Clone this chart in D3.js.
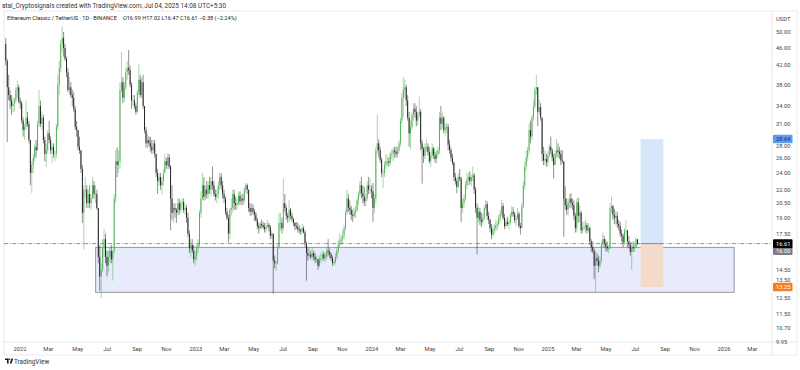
<!DOCTYPE html>
<html>
<head>
<meta charset="utf-8">
<script src="https://cdn.jsdelivr.net/npm/d3@7/dist/d3.min.js"></script>
<style>
  html, body { margin: 0; padding: 0; background: #ffffff; }
  svg { display: block; font-family: Roboto, "DejaVu Sans", sans-serif; }
</style>
</head>
<body>
<svg id="chart" width="800" height="370"></svg>
<script>
// ETC/USDT, candles aggregated to 3 days, Dec 1 2021 -> Jul 4 2025
const startDate = new Date(Date.UTC(2021, 11, 1));
const periodDays = 3;
const firstOpen = 47;

const highs = [
  48.5,43.5,40,37,36,35.5,35.5,37.5,38.8,38,
  35.5,35,32,31,35,33,31.5,28.5,25.5,26.5,
  28,28.5,31.5,37,35,33,32.5,29,28,30,
  31.5,29,28,28,27,31,40,43,48,51.5,
  50,47,44,41.5,39.5,38.5,37,36.5,34,31.5,
  29.5,29,27,25,22.5,23.5,22.5,22,22.5,21.5,
  23.5,23,22.5,22,20,16.5,15,17,17.9,17.5,
  16,16,16.3,16.5,16,21.5,27,27.4,27,38.5,
  45,39.5,38.5,41.5,43,45.5,42,38.5,36,36,
  34.5,37,42.2,40,39.5,40,34,30.5,29.5,29,
  29,28.5,28.5,28.5,26.5,24.5,24,24,23.5,24.5,
  26.5,26,26.6,26.5,25,22.5,20.5,20.5,20,21,
  21,20.8,21,21,20.5,20.3,19.5,17.8,17,17,
  16.5,16,16.5,17,19.8,21.8,24,23.5,22.5,23,
  23,23.5,23.5,24.8,23,22,22,23,24,24,
  23,22,21.2,20,19.3,20,21,22,22,21.2,
  21,21.8,21.8,21.5,21.5,22.3,22.8,22.7,22,20.5,
  20.5,20.4,19.9,19.6,19,18.5,18.6,18.8,18.6,18.5,
  18.5,18.8,18.5,18.3,17.8,17.5,15.6,15.2,16.5,19.5,
  19.5,19,23.3,21.5,20.3,19.5,20.8,20,19.5,19,
  18.6,18.6,18.5,18.3,18,18.4,18.2,17.8,16.8,16.3,
  16.2,16,16.3,16,15.8,15.6,15.4,15.6,15.8,16,
  15.9,15.8,16.2,17,16.2,15.9,15.6,15.3,15.8,16.3,
  17,17.5,17.3,17.8,18.3,19.8,22,21.5,20.8,20.2,
  19.8,20,20.2,21.1,21.8,23,23.5,22.5,22.3,21.5,
  23,23.5,23.3,22.5,22.8,21.5,27.5,32.5,28.6,27.5,
  26,24.5,25.5,26.5,26.2,26,26.8,27.2,27.4,27.5,
  27.5,27.5,28.5,32,36.4,39.5,39,38,36,33,
  31.5,33,34.5,34.5,34,33,35.7,33.5,28.5,27.5,
  28,28.6,28,27.5,26.8,28,27.5,26.8,27,27.5,
  33,34,32.8,32.3,31,31.2,31,28.5,27.4,26.5,
  25.5,24,23.3,24,24.5,23.5,21,21.5,23,24,
  24,24.2,23.8,24.8,24,22.3,20.5,20.2,20,19.5,
  19.4,20.2,20.9,20.7,19.6,18.9,18.4,18.2,18.4,18.8,
  18.7,19.3,19.8,20.9,20.5,19.4,18.9,19.1,18.8,19.5,
  20.2,20.1,19.6,19.2,20,19.6,18.5,20.5,23,25.5,
  27,27.5,31,31.5,32.5,35,37.5,40,37.5,35.2,
  34.5,32,27.5,27,26.5,26.8,27.8,29,27.3,26.5,
  27,28.6,28,27.5,27,27,25.5,22.4,21,21,
  21.5,21.6,21,20.8,19.5,21,21.1,20.3,19.7,18.6,
  18.6,18.8,18.5,18.5,18.2,17,16.8,16.2,16,15.8,
  15.6,15.5,16.8,17.6,17.3,17,16.8,16.5,20.5,21.2,
  20.3,19.9,19.7,19.6,18.8,18.6,17.9,17.5,18,18.8,
  17.5,17.3,16.8,16.7,16.8,16.7,17.2,17.02
];

const lows = [
  42,28.2,35,33.5,32.5,33,33,34.5,35.5,34.5,
  33.5,31,29,28.5,30,30.5,28,22.5,21.6,24,
  25.5,26,27,30.5,30.5,30,28,25.5,24.8,26.5,
  28,26.5,25.3,26,25.5,26,30,36,40.5,45,
  44,43,39.5,36.5,36,35.5,34,33,30,29,
  27,26.5,24,18.5,16.1,21,20,20,20,19.8,
  21,21,20.5,19.8,15,13,12.5,14.3,15.5,15,
  14,14.3,15,15,13.7,15.8,20.5,23.5,24,24.5,
  36.5,34.5,34.8,37,39,40,37.5,33.5,34,33.5,
  32.5,32.8,36,35.5,35.5,33.5,29.5,27.4,27.3,27.5,
  26.8,26.5,26.5,26,23.5,21.5,22.5,22,21.5,22.5,
  24,24.5,24.5,24.5,17.8,18.8,18.5,19,18.5,19.2,
  19.3,19.5,19.8,19.5,19.3,18.5,17.2,15.8,15.5,15.8,
  15,14.8,15.2,15.8,16.3,19,20.8,20.8,20.8,21,
  21,21.5,21.3,22,21.2,20.8,20.5,21,22,22,
  21,20.5,19.3,18.8,16.7,17,19.2,19.5,19.8,19.8,
  19.8,20.3,20.3,20.3,20.3,20.5,21.6,21.5,19.6,19.2,
  19.2,19.3,18.7,18.6,17.9,17.5,17.8,18,17.9,17.6,
  17.6,18,17.7,17,17,12.8,14.6,14.4,14.9,16.2,
  17.8,17.5,17.8,19.6,18.8,18.5,18.6,18.8,18.6,18.2,
  17.8,17.9,17.6,17.5,17.4,17.5,17.5,16.3,13.7,15.2,
  15.4,15.3,15.3,15.2,15,15,14.5,14.7,15,15.2,
  15.2,15.1,15.3,15.6,15.4,15.2,14.8,14.8,14.9,15.3,
  15.8,16.3,16.5,16.6,17,17.8,19.3,19.6,19.3,18.8,
  18.6,19,19,19.6,20.3,21.2,21,20.5,20.2,20.2,
  20.8,21.5,21.5,21,18.6,19.5,20.5,26.5,26,25.3,
  23.5,22.2,23.5,24.5,24.8,24.8,25,25.8,25.5,26,
  26,26,26.5,27.5,31,32,35.5,34,31.5,27.5,
  27.1,30,31.5,32,30.6,30.8,32,27,22.7,25.3,
  25.8,26.8,26.3,25.2,24.8,26,25.8,25.3,25.2,26,
  26.5,30,30.2,29.5,29,29.5,27,26.5,25.5,25,
  23,22.6,21.6,22.2,23,18.6,19.5,20,20.8,22,
  22.5,22.6,22.4,23,21.5,19.5,15.7,18.5,18.3,18.1,
  18.3,18.8,19.8,18.8,18.4,17.6,17,17.2,17.5,17.7,
  17.8,18.2,18.6,19.2,18.8,17.9,18,18.2,17.9,18.3,
  19,19.1,18.5,18.2,18.8,18,17.4,18,20,22,
  24.3,25.5,26.5,28,28.5,31.5,33.5,36,30.6,32.5,
  31.5,25.5,25,25,24.8,24.8,26,26.5,25.5,23.3,
  25,26,26,25.8,25,25.2,17.2,19.8,19.3,19.2,
  20,20,19.8,18.8,17.6,17.6,18.5,18.6,17.5,17.5,
  17.7,17.6,17.5,17.6,16.5,15.9,15.8,13.8,12.9,14.8,
  14.3,14.6,15,16.2,16.3,16,15.9,15.8,16.1,19.5,
  18.8,18.4,18.3,18,17.8,17.2,16.8,16.3,16.5,17.4,
  16.3,16.2,15.6,14.5,15.9,15.9,16.2,16.47
];

const closes = [
  43,37.5,36,35,34,34.5,35,37,37.5,34.8,
  34.5,31.5,30,30.5,32,31,28.5,24,25,26,
  27.5,27,31,34,31,32,28.5,26.5,27,29.5,
  28.5,27,27.5,26.5,26.5,30.5,38,41.5,47,48.5,
  46,43.5,40.5,37,37.5,36,35.5,33.5,30.5,30,
  27.5,27,24.5,19.5,22,22,20.5,21.5,20.5,21,
  22.5,21.5,21.5,20,15.5,14,14.5,16.2,17,15.5,
  14.8,15.5,16,15.3,16,21,25.5,25,25.5,37,
  38.5,35.5,37.5,40.5,41.5,41,38,35,35,34,
  33,36.5,39,36,38.5,34,30,28,28.5,28,
  27.5,27,28,26.5,24,23,23.5,22.5,23,24,
  25.5,25,26,24.8,21,19.5,20,19.8,19.5,20.5,
  19.8,20.5,20.6,19.8,20,19,17.5,16.2,16.5,16,
  15.3,15.5,16.2,16.5,19.5,21,22.5,21.2,22,21.5,
  22.5,22,23,22.5,21.5,21.2,21.5,22.5,23.5,22.5,
  21.5,21,19.6,19,17.5,19.8,20,21.5,20.5,20.3,
  20.5,21.3,20.7,21,20.8,22,22.5,22,20,19.6,
  20,19.6,19.3,18.8,18.2,18,18.4,18.3,18.1,17.9,
  18.2,18.3,18.1,17.3,17.5,15.2,15,15,16.2,18.5,
  18.5,18,20.5,20,19.2,19,19.8,19.2,18.9,18.5,
  18.2,18.1,17.9,17.8,17.7,18,17.6,16.6,15.8,15.6,
  15.7,15.5,15.8,15.5,15.3,15.3,14.8,15.3,15.4,15.7,
  15.4,15.5,16,15.9,15.7,15.4,15,15.1,15.5,16,
  16.5,16.8,17,17.3,18,19.5,21,20,19.8,19.3,
  19.2,19.5,19.8,20.8,21.5,22.5,21.6,21.2,20.7,21,
  22.5,22,22,21.8,20,21,27,28,27,25.7,
  24,24,25,25.5,25.5,25.3,26.5,26.5,27,26.8,
  26.5,27,28,31.5,35.5,37,37.5,35,32,29.5,
  30.5,32.5,33.5,33,31.5,32.5,33,28,27.2,26.2,
  27.5,27.5,26.8,25.5,26.3,27.3,26.3,25.8,26.5,27,
  32,31,32,30,30.3,30.5,27.8,27,26,25.3,
  23.5,23,22.3,23.5,23.3,20,20.5,21,22.5,23.2,
  23.5,23,23.5,23.7,22,20,19,19.6,18.8,18.6,
  19,20,20.4,19.2,18.8,18,17.4,17.9,18,18.3,
  18.4,19,19.4,20.2,19,18.2,18.6,18.4,18.5,19.2,
  19.6,19.4,18.8,18.9,19.4,18.2,18,20.2,22.5,24.8,
  26,27,30,29,32,34,37,37.5,33,33.8,
  32,26.5,25.6,25.8,25.4,26.3,27.5,27,26,25,
  26.5,27,26.8,26.5,25.6,25.5,21,20.3,19.8,20.6,
  21,20.5,20.3,19.2,18,20.6,19.2,19.5,17.8,18,
  18.1,18.3,17.8,18,16.8,16.3,16,14.8,15.4,15.2,
  14.8,15.2,16.5,17,16.6,16.4,16.2,16.2,20,20.2,
  19.3,19,19.2,18.4,18.2,17.5,17.3,16.7,17.8,17.8,
  16.8,16.5,15.9,16.3,16.2,16.3,16.99,16.61
];

const priceTicks = [50, 46, 42, 38, 34, 31, 28, 26, 24, 22, 20.5, 19, 17.5, 16, 14.5, 13.5, 12.5, 11.5, 10.7, 9.95];
const lastPrice = 16.61;
const grayLevel = 16.00;

// drawings
const zoneStart = new Date(Date.UTC(2022, 5, 7));
const zoneEnd = new Date(Date.UTC(2026, 0, 22));
const zoneTop = 16.29;
const zoneBottom = 12.89;

const toolStart = new Date(Date.UTC(2025, 6, 12));
const toolEnd = new Date(Date.UTC(2025, 7, 28));
const toolEntry = 16.61;
const toolTarget = 28.64;
const toolStop = 13.25;

const headerTop = "atai_Cryptosignals created with TradingView.com, Jul 04, 2025 14:08 UTC+5:30";
const headerSymbol = "Ethereum Classic / TetherUS · 1D · BINANCE";
const headerValues = "O16.99 H17.02 L16.47 C16.61 −0.38 (−2.24%)";

// layout
const PLOT_LEFT = 4, PLOT_RIGHT = 772, PLOT_TOP = 11, PLOT_BOTTOM = 342;
const AXIS_BOTTOM = 355, FRAME_RIGHT = 797;
const UP_COLOR = "#4caf50", DOWN_COLOR = "#1e1e1e";
const LABEL_X = 776, LABEL_H = 8.6, TEXT_H = 5;

const svg = d3.select("#chart");

const xScale = d3.scaleUtc()
  .domain([new Date(Date.UTC(2022, 0, 1)), new Date(Date.UTC(2026, 0, 1))])
  .range([20, 724]);

const yScale = d3.scaleLog()
  .domain([9.95, 50])
  .range([342, 32]);

const defs = svg.append("defs");
defs.append("clipPath").attr("id", "plot-clip")
  .append("rect")
  .attr("x", PLOT_LEFT).attr("y", PLOT_TOP)
  .attr("width", PLOT_RIGHT - PLOT_LEFT).attr("height", PLOT_BOTTOM - PLOT_TOP);

// header
svg.append("text")
  .attr("x", 2).attr("y", 8)
  .style("font-size", "6.4px").style("fill", "#333")
  .text(headerTop);

// frame
svg.append("rect")
  .attr("x", PLOT_LEFT).attr("y", PLOT_TOP)
  .attr("width", FRAME_RIGHT - PLOT_LEFT).attr("height", AXIS_BOTTOM - PLOT_TOP)
  .attr("fill", "none").attr("stroke", "#e3e5ea").attr("stroke-width", 0.8);
svg.append("line")
  .attr("x1", PLOT_LEFT).attr("x2", FRAME_RIGHT)
  .attr("y1", PLOT_BOTTOM).attr("y2", PLOT_BOTTOM)
  .attr("stroke", "#e3e5ea").attr("stroke-width", 0.8);
svg.append("line")
  .attr("x1", PLOT_RIGHT).attr("x2", PLOT_RIGHT)
  .attr("y1", PLOT_TOP).attr("y2", AXIS_BOTTOM)
  .attr("stroke", "#e3e5ea").attr("stroke-width", 0.8);

const plot = svg.append("g").attr("clip-path", "url(#plot-clip)");

// support zone rectangle
plot.append("rect")
  .attr("x", xScale(zoneStart))
  .attr("y", yScale(zoneTop))
  .attr("width", xScale(zoneEnd) - xScale(zoneStart))
  .attr("height", yScale(zoneBottom) - yScale(zoneTop))
  .attr("fill", "#e7ebfb")
  .attr("stroke", "#8d8f99")
  .attr("stroke-width", 0.9);

// candles
const candles = closes.map((c, i) => {
  const t = d3.utcDay.offset(startDate, i * periodDays);
  const o = i === 0 ? firstOpen : closes[i - 1];
  return { t: t, o: o, h: highs[i], l: lows[i], c: c };
});
const halfPeriod = (xScale(d3.utcDay.offset(startDate, periodDays)) - xScale(startDate)) / 2;

const cg = plot.append("g");
cg.selectAll(".wick")
  .data(candles)
  .enter()
  .append("line")
  .attr("class", "wick")
  .attr("x1", d => xScale(d.t) + halfPeriod)
  .attr("x2", d => xScale(d.t) + halfPeriod)
  .attr("y1", d => yScale(Math.max(d.h, d.o, d.c)))
  .attr("y2", d => yScale(Math.min(d.l, d.o, d.c)))
  .attr("stroke", d => d.c >= d.o ? UP_COLOR : DOWN_COLOR)
  .attr("stroke-width", 0.5);

cg.selectAll(".body")
  .data(candles)
  .enter()
  .append("rect")
  .attr("class", "body")
  .attr("x", d => xScale(d.t) + halfPeriod - 0.45)
  .attr("width", 0.9)
  .attr("y", d => yScale(Math.max(d.o, d.c)))
  .attr("height", d => Math.max(0.6, yScale(Math.min(d.o, d.c)) - yScale(Math.max(d.o, d.c))))
  .attr("fill", d => d.c >= d.o ? UP_COLOR : DOWN_COLOR);

// last price line
plot.append("line")
  .attr("x1", PLOT_LEFT).attr("x2", PLOT_RIGHT)
  .attr("y1", yScale(lastPrice)).attr("y2", yScale(lastPrice))
  .attr("stroke", "#666")
  .attr("stroke-width", 0.7)
  .attr("stroke-dasharray", "4,1.5,1,1.5");

// long position tool
const tx0 = xScale(toolStart), tx1 = xScale(toolEnd);
plot.append("rect")
  .attr("x", tx0).attr("width", tx1 - tx0)
  .attr("y", yScale(toolTarget))
  .attr("height", yScale(toolEntry) - yScale(toolTarget))
  .attr("fill", "#d8e6fb");
plot.append("rect")
  .attr("x", tx0).attr("width", tx1 - tx0)
  .attr("y", yScale(toolEntry))
  .attr("height", yScale(toolStop) - yScale(toolEntry))
  .attr("fill", "#f3dacb");
plot.append("line")
  .attr("x1", tx0).attr("x2", tx1)
  .attr("y1", yScale(toolEntry)).attr("y2", yScale(toolEntry))
  .attr("stroke", "#7d7068").attr("stroke-width", 0.8);

// symbol legend
const legend = svg.append("text")
  .attr("x", 7).attr("y", 20)
  .style("font-size", "5.6px").style("fill", "#222");
legend.append("tspan").text(headerSymbol);
legend.append("tspan").attr("dx", 6).text(headerValues);

// price axis
svg.append("text")
  .attr("x", LABEL_X).attr("y", 21)
  .style("font-size", "5.8px").style("fill", "#444")
  .text("USDT");

// tick texts that fall under a coloured badge are pushed just outside it
const badges = [toolTarget, grayLevel, lastPrice, toolStop];
function tickY(v) {
  const y = yScale(v);
  const b = badges.find(b => b !== v && Math.abs(yScale(b) - y) < (LABEL_H + TEXT_H) / 2);
  if (b === undefined) return y;
  const yb = yScale(b);
  return y > yb ? yb + (LABEL_H + TEXT_H) / 2 + 0.3 : yb - (LABEL_H + TEXT_H) / 2 - 0.3;
}

svg.selectAll(".price-tick")
  .data(priceTicks.filter(v => !badges.includes(v)))
  .enter()
  .append("text")
  .attr("class", "price-tick")
  .attr("x", LABEL_X)
  .attr("y", d => tickY(d) + 2)
  .style("font-size", "5.8px")
  .style("fill", "#444")
  .text(d => d.toFixed(2));

function priceLabel(value, bg, fg) {
  const y = yScale(value);
  svg.append("rect")
    .attr("x", 773).attr("y", y - LABEL_H / 2)
    .attr("width", 19.5).attr("height", LABEL_H)
    .attr("rx", 1)
    .attr("fill", bg);
  svg.append("text")
    .attr("x", LABEL_X).attr("y", y + 2)
    .style("font-size", "5.8px")
    .style("fill", fg)
    .text(value.toFixed(2));
}
priceLabel(toolTarget, "#5b9cf0", "#10306a");
priceLabel(grayLevel, "#7b7e86", "#ffffff");
priceLabel(lastPrice, "#000000", "#ffffff");
priceLabel(toolStop, "#f57c1f", "#ffffff");

// time axis
const timeTicks = xScale.ticks(d3.utcMonth.every(2))
  .concat([new Date(Date.UTC(2026, 2, 1))]);
svg.selectAll(".time-tick")
  .data(timeTicks)
  .enter()
  .append("text")
  .attr("class", "time-tick")
  .attr("x", d => xScale(d))
  .attr("y", 350.5)
  .attr("text-anchor", "middle")
  .style("font-size", "5.8px")
  .style("fill", "#444")
  .text(d => d.getUTCMonth() === 0 ? d3.utcFormat("%Y")(d) : d3.utcFormat("%b")(d));

// TradingView logo
const logo = svg.append("g").attr("transform", "translate(5,358.5)");
logo.append("path").attr("d", "M0,0 H3.6 V5 H2 V1.5 H0 Z").attr("fill", "#131722");
logo.append("circle").attr("cx", 4.5).attr("cy", 0.8).attr("r", 0.8).attr("fill", "#131722");
logo.append("path").attr("d", "M4.8,5 L6.4,0 H8.1 L6.5,5 Z").attr("fill", "#131722");
svg.append("text")
  .attr("x", 14).attr("y", 363.5)
  .style("font-size", "6.4px").style("fill", "#2a2e39")
  .text("TradingView");
</script>
</body>
</html>
